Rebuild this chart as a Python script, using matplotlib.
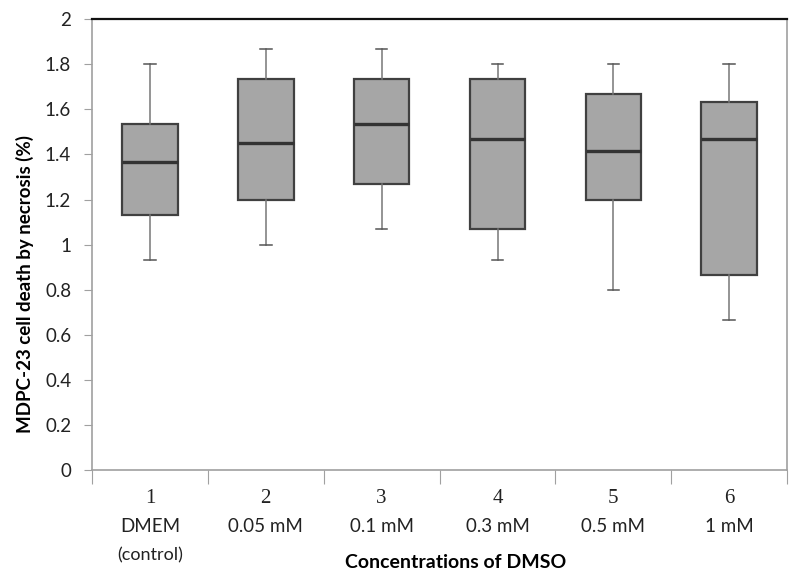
import matplotlib
matplotlib.use("Agg")
import matplotlib.pyplot as plt

# box statistics
groups = ["1", "2", "3", "4", "5", "6"]
conc = ["DMEM", "0.05 mM", "0.1 mM", "0.3 mM", "0.5 mM", "1 mM"]
whislo = [0.933, 1.0, 1.067, 0.933, 0.8, 0.667]
q1 = [1.133, 1.2, 1.267, 1.067, 1.2, 0.867]
med = [1.367, 1.45, 1.533, 1.467, 1.417, 1.467]
q3 = [1.533, 1.733, 1.733, 1.733, 1.667, 1.633]
whishi = [1.8, 1.867, 1.867, 1.8, 1.8, 1.8]

plt.rcParams['font.family'] = ['Lato', 'DejaVu Sans']

stats = []
for i in range(len(groups)):
    stats.append({"whislo": whislo[i], "q1": q1[i], "med": med[i],
                  "q3": q3[i], "whishi": whishi[i], "fliers": []})

fig = plt.figure(figsize=(8, 5.83), dpi=100)
ax = fig.add_axes([0.115, 0.194, 0.869, 0.773])

ax.bxp(stats, positions=range(1, 7), widths=0.48, patch_artist=True,
       showfliers=False,
       boxprops=dict(facecolor="#a6a6a6", edgecolor="#404040", linewidth=1.6),
       medianprops=dict(color="#333333", linewidth=2.4),
       whiskerprops=dict(color="#777777", linewidth=1.1),
       capprops=dict(color="#555555", linewidth=1.1),
       capwidths=0.1)

ax.set_xlim(0.5, 6.5)
ax.set_ylim(0, 2)
ax.set_yticks([i * 0.2 for i in range(11)])
ax.set_yticklabels(["0", "0.2", "0.4", "0.6", "0.8", "1", "1.2", "1.4", "1.6", "1.8", "2"])
ax.tick_params(axis="y", length=6, color="#a0a0a0", labelsize=13.5, pad=9,
               labelcolor="#222222")

ax.set_xticks([0.5 + i for i in range(7)])
ax.set_xticklabels([])
ax.tick_params(axis="x", length=10, color="#a0a0a0", direction="out")

for i in range(len(groups)):
    x = i + 1
    ax.text(x, -0.129, groups[i], ha="center", va="center", fontsize=15,
            family="Liberation Serif", color="#222222", clip_on=False)
    ax.text(x, -0.253, conc[i], ha="center", va="center", fontsize=13.5,
            color="#222222", clip_on=False)
ax.text(1, -0.381, "(control)", ha="center", va="center", fontsize=13,
        color="#222222", clip_on=False)

ax.text(3.64, -0.412, "Concentrations of DMSO", ha="center", va="center",
        fontsize=14, fontweight="bold", clip_on=False)
ax.set_ylabel("MDPC-23 cell death by necrosis (%)", fontsize=13.5,
              fontweight="bold")
ax.yaxis.set_label_coords(-0.083, 0.412)

for s in ["left", "bottom", "right"]:
    ax.spines[s].set_color("#a0a0a0")
    ax.spines[s].set_linewidth(1.2)
ax.spines["top"].set_color("#111111")
ax.spines["top"].set_linewidth(1.6)

fig.savefig("out.png", dpi=100)
